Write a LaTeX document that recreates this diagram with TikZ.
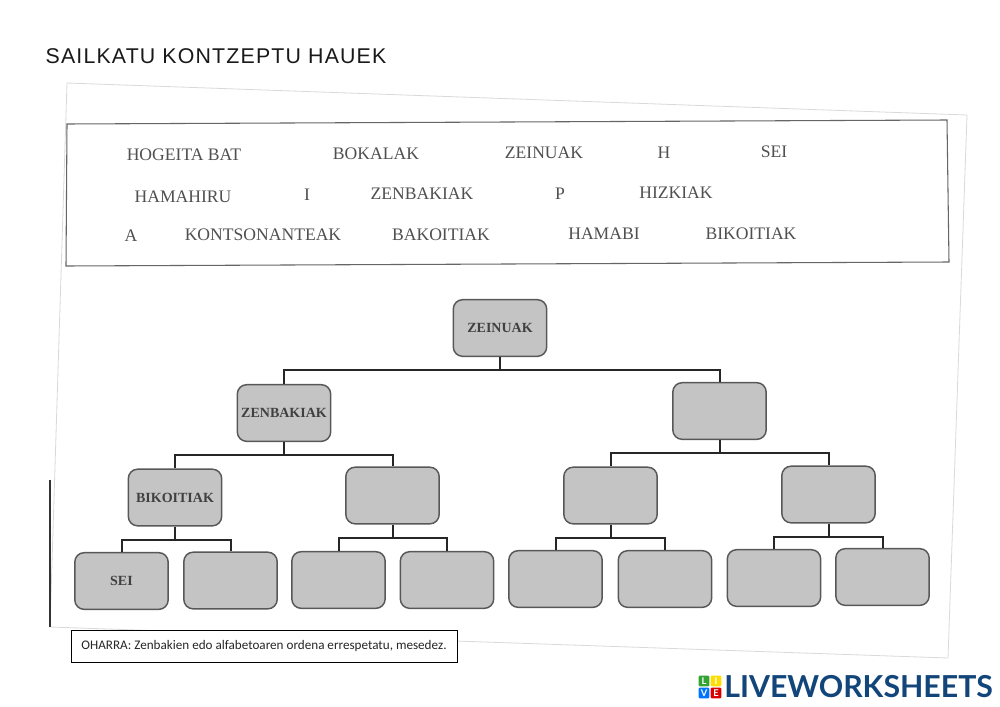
\documentclass[tikz,border=0pt]{standalone}
\usepackage{fontspec}
\setmainfont{Liberation Serif}
\newfontfamily\titlefont[LetterSpace=5.5]{Liberation Sans}
\newfontfamily\notefont{Carlito}
\newfontfamily\logofont{Lato}
\definecolor{boxfill}{HTML}{C4C4C4}
\definecolor{boxline}{HTML}{585858}
\definecolor{inkgray}{HTML}{505050}
\definecolor{logoblue}{HTML}{12457A}
\tikzset{
  concept/.style={draw=boxline,line width=1.1pt,fill=boxfill,rounded corners=7pt,inner sep=0pt,
    minimum width=70pt,minimum height=42.5pt,font=\bfseries\fontsize{10.5}{12}\selectfont,text=black!75},
  word/.style={font=\fontsize{13.2}{15}\selectfont,text=inkgray,inner sep=0pt},
  link/.style={draw=black!85,line width=1.5pt},
  logosq/.style={inner sep=0pt,minimum size=8.2pt,rounded corners=1pt,text=white,font=\logofont\bfseries\fontsize{7}{8}\selectfont}
}
\begin{document}
\begin{tikzpicture}[x=0.75pt,y=-0.75pt]
\useasboundingbox (0,0) rectangle (1000,707);
\fill[white] (0,0) rectangle (1000,707);
% scanned page edges
\coordinate (pa) at (67,83); \coordinate (pb) at (967,115);
\coordinate (pc) at (948,658); \coordinate (pd) at (50,627);
\draw[black!15,line width=0.6pt] (pd) -- (pa) -- (pb) -- (pc) -- cycle;
\draw[black!80,line width=0.8pt] (50,480) -- (pd);
% word box
\draw[black!60,line width=0.8pt] (67,124) -- (947,120) -- (949,262) -- (66,266) -- cycle;
\node[font=\titlefont\fontsize{16}{18}\selectfont,text=black!90,inner sep=0pt] (title) at (216,56) {SAILKATU KONTZEPTU HAUEK};
% words
\node[word] (w1) at (184,155) {HOGEITA BAT};
\node[word] (w2) at (376,154) {BOKALAK};
\node[word] (w3) at (544,153) {ZEINUAK};
\node[word] (w4) at (664,153) {H};
\node[word] (w5) at (774,152) {SEI};
\node[word] (w6) at (183,197) {HAMAHIRU};
\node[word] (w7) at (307,195) {I};
\node[word] (w8) at (422,194) {ZENBAKIAK};
\node[word] (w9) at (560,194) {P};
\node[word] (w10) at (676,193) {HIZKIAK};
\node[word] (w11) at (131,236) {A};
\node[word] (w12) at (263,235) {KONTSONANTEAK};
\node[word] (w13) at (441,235) {BAKOITIAK};
\node[word] (w14) at (604,234) {HAMABI};
\node[word] (w15) at (751,234) {BIKOITIAK};
% tree
\node[concept] (z) at (500,328) {ZEINUAK};
\node[concept] (l) at (284,413) {ZENBAKIAK};
\node[concept] (r) at (719.5,411) {};
\node[concept] (ll) at (175,497.5) {BIKOITIAK};
\node[concept] (lr) at (392.5,495.5) {};
\node[concept] (rl) at (610.5,495.5) {};
\node[concept] (rr) at (828.5,494.5) {};
\node[concept] (a1) at (121.5,581) {SEI};
\node[concept] (a2) at (230.5,580.5) {};
\node[concept] (a3) at (338.5,580) {};
\node[concept] (a4) at (447,580) {};
\node[concept] (a5) at (555.5,579) {};
\node[concept] (a6) at (665,579) {};
\node[concept] (a7) at (774,578) {};
\node[concept] (a8) at (882.5,577) {};
\draw[link] (z.south) -- ++(0,13) -| (l.north);
\draw[link] (z.south) -- ++(0,13) -| (r.north);
\draw[link] (l.south) -- ++(0,13) -| (ll.north);
\draw[link] (l.south) -- ++(0,13) -| (lr.north);
\draw[link] (r.south) -- ++(0,13) -| (rl.north);
\draw[link] (r.south) -- ++(0,13) -| (rr.north);
\draw[link] (ll.south) -- ++(0,13) -| (a1.north);
\draw[link] (ll.south) -- ++(0,13) -| (a2.north);
\draw[link] (lr.south) -- ++(0,13) -| (a3.north);
\draw[link] (lr.south) -- ++(0,13) -| (a4.north);
\draw[link] (rl.south) -- ++(0,13) -| (a5.north);
\draw[link] (rl.south) -- ++(0,13) -| (a6.north);
\draw[link] (rr.south) -- ++(0,13) -| (a7.north);
\draw[link] (rr.south) -- ++(0,13) -| (a8.north);
% note
\node[draw=black,line width=0.7pt,fill=white,minimum width=289.5pt,minimum height=24pt,inner sep=0pt,
  font=\notefont\fontsize{9.85}{11}\selectfont,text=black!85] (note) at (264,646) {OHARRA: Zenbakien edo alfabetoaren ordena errespetatu, mesedez.};
% logo
\node[logosq,fill=green!55!black!80] (s1) at (704,681) {L};
\node[logosq,fill=yellow!80!orange] (s2) at (716,681) {I};
\node[logosq,fill=blue!55!cyan] (s3) at (704,693) {V};
\node[logosq,fill=red!85!black] (s4) at (716,693) {E};
\node[anchor=west,inner sep=0pt,text=logoblue,font=\logofont\bfseries\fontsize{22.7}{26}\selectfont] (logo) at (724,686.5) {LIVEWORKSHEETS};
\end{tikzpicture}
\end{document}
